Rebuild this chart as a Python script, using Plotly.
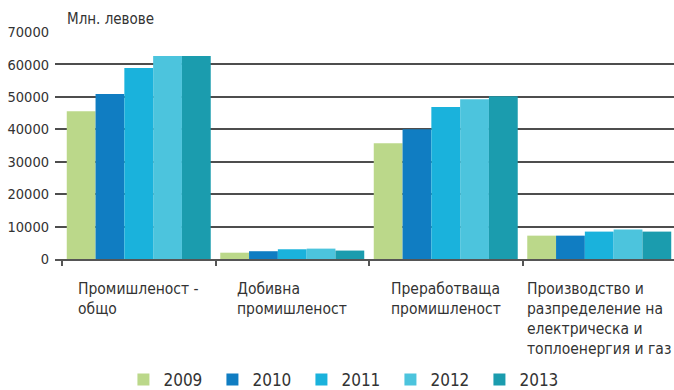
import plotly.graph_objects as go

# Industry output by sector, million BGN
categories = ["Промишленост - общо", "Добивна промишленост",
              "Преработваща промишленост",
              "Производство и разпределение на електрическа и топлоенергия и газ"]
category_labels = ["Промишленост -<br>общо",
                   "Добивна<br>промишленост",
                   "Преработваща<br>промишленост",
                   "Производство и<br>разпределение на<br>електрическа и<br>топлоенергия и газ"]
years = ["2009", "2010", "2011", "2012", "2013"]
values = {
    "2009": [45600, 1950, 35700, 7200],
    "2010": [50900, 2400, 40000, 7200],
    "2011": [58900, 3000, 46900, 8450],
    "2012": [62600, 3200, 49300, 9100],
    "2013": [62600, 2600, 50200, 8450],
}
colors = ["#BBD88A", "#107DC2", "#1AB2DC", "#4CC4DD", "#1B9CAE"]
y_ticks = [0, 10000, 20000, 30000, 40000, 50000, 60000, 70000]
y_tick_labels = ["0", "10000", "20000", "30000", "40000", "50000", "60000", "70000"]

COND = "DejaVu Sans Condensed"
TXT = "#333333"

fig = go.Figure()
for year, color in zip(years, colors):
    fig.add_trace(go.Bar(
        name=year, x=categories, y=values[year],
        marker=dict(color=color, line=dict(width=0)),
    ))

for cat, label in zip(categories, category_labels):
    fig.add_annotation(
        x=cat, xref="x", y=-0.082, yref="paper",
        text=label, showarrow=False, align="left",
        xanchor="center", yanchor="top",
        font=dict(family=COND, size=15.5, color=TXT),
    )

# y-axis unit caption above the plot
fig.add_annotation(
    x=(65 - 55) / 619, xref="paper", y=(258.5 - 18) / 227, yref="paper",
    text="Млн. левове", showarrow=False,
    xanchor="left", yanchor="middle",
    font=dict(family=COND, size=15, color=TXT),
)

fig.update_layout(
    width=674, height=390,
    margin=dict(l=55, r=0, t=32, b=131, autoexpand=False),
    paper_bgcolor="white", plot_bgcolor="white",
    barmode="group", bargap=0.062, bargroupgap=0,
    showlegend=True,
    legend=dict(
        orientation="h", x=0.470, xanchor="center",
        y=-0.533, yanchor="middle",
        font=dict(family=COND, size=17, color=TXT),
        traceorder="normal", entrywidth=44, entrywidthmode="pixels",
    ),
    xaxis=dict(
        type="category", range=[-0.5456, 3.487],
        showticklabels=False, showgrid=False,
        showline=True, linecolor="#555555", linewidth=2,
        ticks="outside", tickson="boundaries", ticklen=5,
        tickcolor="#555555", tickwidth=1.5,
    ),
    yaxis=dict(
        range=[0, 70000], tickvals=y_ticks, ticktext=y_tick_labels,
        showgrid=True, gridcolor="#4d4d4d", gridwidth=1.6,
        zeroline=False, showline=False, ticks="",
        ticklabelstandoff=5,
        tickfont=dict(family=COND, size=14.5, color=TXT),
    ),
)

fig.write_html("out.html")
